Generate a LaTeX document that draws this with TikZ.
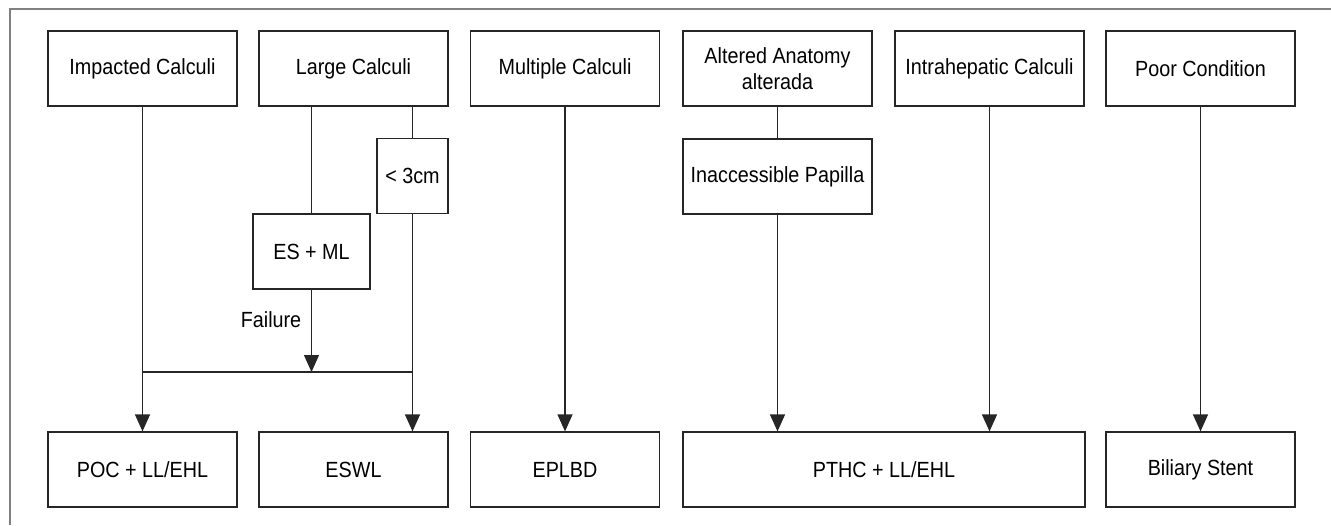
\documentclass[tikz,border=0pt]{standalone}
\usepackage{fontspec}
\setmainfont[FakeStretch=0.9]{Liberation Sans}
\usetikzlibrary{arrows.meta,positioning}

\begin{document}
\begin{tikzpicture}[x=0.02cm, y=-0.02cm,
    box/.style={draw=black!85, line width=0.7pt, rectangle, minimum width=3.78cm,
      minimum height=1.5cm, align=center, inner sep=2pt, font=\fontsize{12.5}{14.5}\selectfont},
    link/.style={draw=black!85, line width=0.7pt},
    arr/.style={link, -{Triangle[length=0.34cm, width=0.3cm]}}]
  \useasboundingbox (0,0) rectangle (1331,525);
  % frame, only top and left
  \draw[gray, line width=0.9pt] (1331,9) -- (10,9) -- (10,525);

  % top row
  \node [box](ic) at (142.5,68.5) {Impacted Calculi};
  \node [box](lc) at (353.5,68.5) {Large Calculi};
  \node [box](mc) at (565,68.5) {Multiple Calculi};
  \node [box](aa) at (777.5,68.5) {Altered Anatomy\\alterada};
  \node [box](ih) at (989.5,68.5) {Intrahepatic Calculi};
  \node [box](pc) at (1200.5,68.5) {Poor Condition};

  % middle boxes
  \node [box, minimum width=1.42cm](small) at (412.5,176) {< 3cm};
  \node [box, minimum width=2.34cm](esml) at (311.5,251.5) {ES + ML};
  \node [box](ip) at (777.5,176.5) {Inaccessible Papilla};
  \node [font=\fontsize{12.5}{14.5}\selectfont](fail) at (271,320) {Failure};

  % bottom row
  \node [box](poc) at (142.5,469.5) {POC + LL/EHL};
  \node [box](eswl) at (353.5,469.5) {ESWL};
  \node [box](epl) at (565,469.5) {EPLBD};
  \node [box, minimum width=8.04cm](pthc) at (884,469.5) {PTHC + LL/EHL};
  \node [box](bs) at (1200.5,469.5) {Biliary Stent};

  \coordinate (jl) at (142.5,372);
  \coordinate (jr) at (412.5,372);

  % connectors
  \draw [arr] (ic) -- (poc);
  \draw [link] (jl) -- (jr);
  \draw [link] (lc.south -| esml.north) -- (esml.north);
  \draw [link] (lc.south -| small.north) -- (small.north);
  \draw [arr] (esml.south) -- (esml.south |- jl);
  \draw [arr] (small.south) -- (small.south |- eswl.north);
  \draw [arr] (mc) -- (epl);
  \draw [link] (aa) -- (ip);
  \draw [arr] (ip.south) -- (ip.south |- pthc.north);
  \draw [arr] (ih.south) -- (ih.south |- pthc.north);
  \draw [arr] (pc) -- (bs);
\end{tikzpicture}
\end{document}
